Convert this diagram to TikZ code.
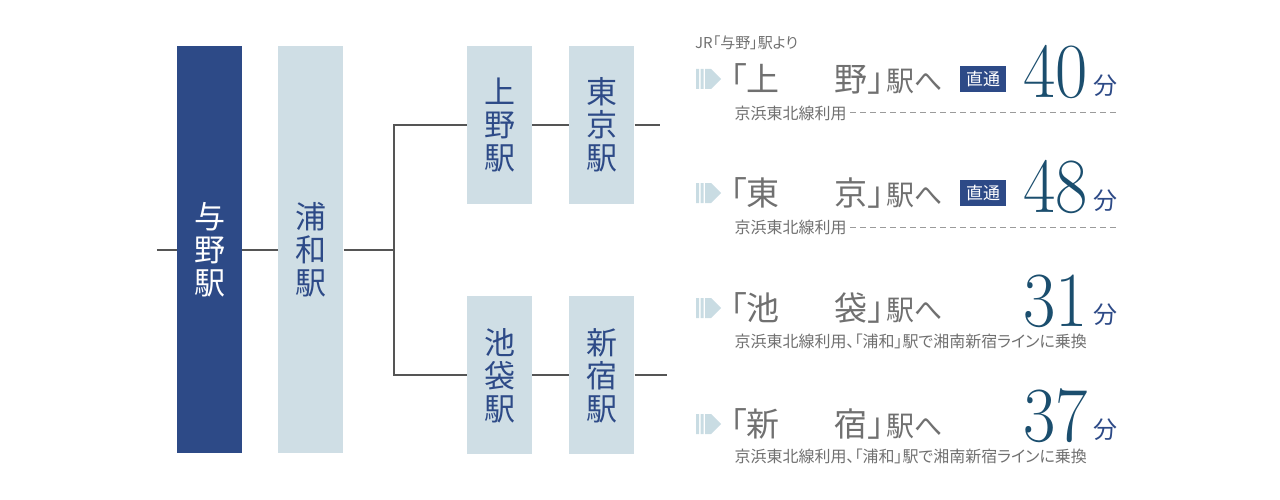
\documentclass[tikz,border=0pt]{standalone}
\usepackage{fontspec}
\usetikzlibrary{positioning}
\newfontfamily\jpfont{Noto Sans CJK JP}
\newfontfamily\jppfont{Noto Sans CJK JP}[RawFeature=+palt]
\definecolor{navy}{RGB}{45,74,135}
\definecolor{pale}{RGB}{207,222,229}
\definecolor{linegray}{RGB}{85,85,85}
\definecolor{textgray}{RGB}{112,112,112}
\definecolor{teal}{RGB}{27,78,110}
\definecolor{iconblue}{RGB}{201,220,227}
\def\boxwidth{65pt}
\def\tallheight{407pt}
\def\shortheight{158pt}
\def\gap{55pt}

\begin{document}
\begin{tikzpicture}[x=1pt,y=-1pt,
	station/.style={rectangle,fill=pale,text=navy,minimum width=\boxwidth,inner sep=0pt,align=center,font=\jpfont\fontsize{31}{33}\selectfont},
	link/.style={draw=linegray,line width=2pt},
	dest/.style={inner sep=0pt,text=textgray,font=\jppfont\fontsize{33}{36}\selectfont},
	suffix/.style={inner sep=0pt,text=textgray,font=\jpfont\fontsize{28}{30}\selectfont},
	badge/.style={rectangle,fill=navy,text=white,minimum width=46pt,minimum height=26pt,inner sep=0pt,font=\jpfont\fontsize{17}{18}\selectfont},
	minutes/.style={inner sep=0pt,text=teal,font=\fontsize{78}{80}\selectfont},
	unit/.style={inner sep=0pt,text=navy,font=\jpfont\fontsize{24}{26}\selectfont},
	route/.style={text=textgray,font=\jppfont\fontsize{16}{18}\selectfont},
	rule/.style={draw=textgray!70,line width=1pt,dash pattern=on 6pt off 4pt},
	icon/.style={fill=iconblue}
	]
	\useasboundingbox (0,0) rectangle (1280,500);
	
	% stations
	\node[station,fill=navy,text=white,minimum height=\tallheight] (yono) at (209.5,249.5) {与\\野\\駅};
	\node[station,minimum height=\tallheight,right=36pt of yono] (urawa) {浦\\和\\駅};
	\node[station,minimum height=\shortheight] (ueno) at (499.5,125) {上\\野\\駅};
	\node[station,minimum height=\shortheight,right=37pt of ueno] (tokyo) {東\\京\\駅};
	\node[station,minimum height=\shortheight,below=92pt of ueno] (ikebukuro) {池\\袋\\駅};
	\node[station,minimum height=\shortheight,right=37pt of ikebukuro] (shinjuku) {新\\宿\\駅};
	
	\coordinate[left=20pt of yono.west] (start);
	\coordinate[right=50pt of urawa.east] (fork);
	\coordinate[right=25pt of tokyo.east] (tokyoend);
	\coordinate[right=32pt of shinjuku.east] (shinjukuend);
	
	\draw[link] (start) -- (yono);
	\draw[link] (yono) -- (urawa);
	\draw[link] (urawa) -- (fork);
	\draw[link] (fork) |- (ueno.west);
	\draw[link] (fork) |- (ikebukuro.west);
	\draw[link] (ueno) -- (tokyo);
	\draw[link] (tokyo.east) -- (tokyoend);
	\draw[link] (ikebukuro) -- (shinjuku);
	\draw[link] (shinjuku.east) -- (shinjukuend);
	
	% destinations
	\node[route,inner sep=0pt,anchor=west,font=\jppfont\fontsize{15}{17}\selectfont] (from) at (695,43) {JR「与野」駅より};
	
	\fill[icon,shift={(696,79)}] (0,-10) rectangle (3,10) (4.5,-10) rectangle (7.5,10) (9,-10) -- (15,-10) -- (25,0) -- (15,10) -- (9,10) -- cycle;
	\node[dest,anchor=west] (dest1) at (730,79) {「上\hspace{\gap}野」};
	\node[suffix,anchor=base west] (eki1) at ([xshift=2pt]dest1.base east) {駅へ};
	\node[badge] (direct1) at (983,79) {直通};
	\node[minutes,anchor=base east] (time1) at (1088,98) {\scalebox{0.9}[1]{40}};
	\node[unit,anchor=base west] (unit1) at ([xshift=5pt,yshift=3pt]time1.base east) {分};
	\node[route,anchor=west] (route1) at (731,113) {京浜東北線利用};
	\coordinate (rule1) at (1116,113);
	\draw[rule] (route1) -- (rule1);
	
	\fill[icon,shift={(696,193)}] (0,-10) rectangle (3,10) (4.5,-10) rectangle (7.5,10) (9,-10) -- (15,-10) -- (25,0) -- (15,10) -- (9,10) -- cycle;
	\node[dest,anchor=west] (dest2) at (730,193) {「東\hspace{\gap}京」};
	\node[suffix,anchor=base west] (eki2) at ([xshift=2pt]dest2.base east) {駅へ};
	\node[badge] (direct2) at (983,193) {直通};
	\node[minutes,anchor=base east] (time2) at (1088,212) {\scalebox{0.9}[1]{48}};
	\node[unit,anchor=base west] (unit2) at ([xshift=5pt,yshift=3pt]time2.base east) {分};
	\node[route,anchor=west] (route2) at (731,227) {京浜東北線利用};
	\coordinate (rule2) at (1116,227);
	\draw[rule] (route2) -- (rule2);
	
	\fill[icon,shift={(696,308)}] (0,-10) rectangle (3,10) (4.5,-10) rectangle (7.5,10) (9,-10) -- (15,-10) -- (25,0) -- (15,10) -- (9,10) -- cycle;
	\node[dest,anchor=west] (dest3) at (730,308) {「池\hspace{\gap}袋」};
	\node[suffix,anchor=base west] (eki3) at ([xshift=2pt]dest3.base east) {駅へ};
	\node[minutes,anchor=base east] (time3) at (1088,326) {\scalebox{0.9}[1]{31}};
	\node[unit,anchor=base west] (unit3) at ([xshift=5pt,yshift=3pt]time3.base east) {分};
	\node[route,anchor=west] (route3) at (731,341) {京浜東北線利用、「浦和」駅で湘南新宿ラインに乗換};
	
	\fill[icon,shift={(696,424)}] (0,-10) rectangle (3,10) (4.5,-10) rectangle (7.5,10) (9,-10) -- (15,-10) -- (25,0) -- (15,10) -- (9,10) -- cycle;
	\node[dest,anchor=west] (dest4) at (730,424) {「新\hspace{\gap}宿」};
	\node[suffix,anchor=base west] (eki4) at ([xshift=2pt]dest4.base east) {駅へ};
	\node[minutes,anchor=base east] (time4) at (1088,441) {\scalebox{0.9}[1]{37}};
	\node[unit,anchor=base west] (unit4) at ([xshift=5pt,yshift=3pt]time4.base east) {分};
	\node[route,anchor=west] (route4) at (731,456) {京浜東北線利用、「浦和」駅で湘南新宿ラインに乗換};
\end{tikzpicture}
\end{document}
